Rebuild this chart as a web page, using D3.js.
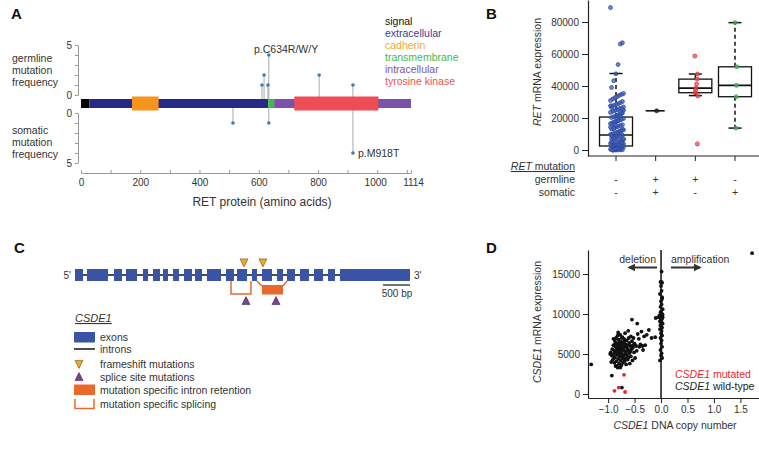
<!DOCTYPE html>
<html>
<head>
<meta charset="utf-8">
<script src="https://cdn.jsdelivr.net/npm/d3@7"></script>
<style>
  body { margin: 0; background: #fff; }
  svg { font-family: "Liberation Sans", Arial, Helvetica, sans-serif; }
</style>
</head>
<body>
<svg id="fig" width="759" height="450"></svg>
<script>
// ---------------- data ----------------
// A: RET protein domains (amino acids)
const retLength = 1114;
const retDomains = [
  ["signal", 0, 28],
  ["extracellular", 28, 632],
  ["transmembrane", 632, 652],
  ["intracellular", 652, 1114],
  ["cadherin", 172, 262],
  ["tyrosine kinase", 720, 1004]
];
const retLegend = ["signal", "extracellular", "cadherin", "transmembrane", "intracellular", "tyrosine kinase"];
const germlinePos = [611, 618, 631, 634, 804, 918];
const germlineFreq = [1, 2, 1, 4, 2, 1];
const somaticPos = [513, 634, 918];
const somaticFreq = [1, 1, 4];
const aTicks = [0, 100, 200, 300, 400, 500, 600, 700, 800, 900, 1000, 1100, 1114];
const aTickLabels = [0, 200, 400, 600, 800, 1000, 1114];

// B: RET mRNA expression by mutation status
const bGroups = ["none", "both", "germline", "somatic"];
const bGermline = ["-", "+", "+", "-"];
const bSomatic = ["-", "+", "-", "+"];
const bLow = [0, 24500, 34000, 13700];
const bQ1 = [2500, 24500, 35800, 33300];
const bMed = [9400, 24500, 38700, 40400];
const bQ3 = [20600, 24500, 44300, 52000];
const bHigh = [47800, 24500, 47500, 79600];
const bNone = [
  89000, 67000, 66200, 53400, 47600, 43300, 39100, 35300, 34700, 34100, 33300, 32600,
  31800, 30900, 30300, 29600, 28800, 28400, 27900, 27300, 26900, 26200, 25800, 25100,
  24600, 24200, 23500, 23100, 22400, 21900, 21300, 20800, 20300, 19700, 19100, 18600,
  18000, 17400, 17100, 16500, 15800, 15300, 14700, 14200, 13600, 13100, 12600, 12000,
  11500, 11100, 10600, 10100, 9700, 9300, 8800, 8400, 7900, 7400, 7100, 6600, 6200,
  5700, 5300, 4900, 4400, 4100, 3700, 3300, 2900, 2600, 2300, 2000, 1800, 1500, 1300,
  1000, 800, 600, 400, 200, 100, 0, 0, 0, 26500, 24900, 22800, 21100, 19400, 17700,
  16100, 14400, 12900, 11800, 10400, 8600, 7600, 5100, 3900, 2800, 1700, 700, 300, 0,
  27600, 25500, 23800, 18300, 15500, 13400, 9100, 6900, 4600, 3100, 1100, 500, 0
];
const bBoth = [24500];
const bGerm = [58700, 47500, 44300, 41200, 38700, 37500, 35800, 33800, 3800];
const bSom = [79600, 52000, 40400, 33300, 13700];
const bTicks = [0, 20000, 40000, 60000, 80000];

// C: CSDE1 gene model (bp)
const geneLength = 6204;
const exonStart = [0, 222, 722, 944, 1259, 1444, 1630, 1815, 2019, 2222, 2444, 2796, 3000, 3278, 3463, 3741, 3926, 4167, 4426, 4685, 4907];
const exonEnd = [148, 611, 870, 1148, 1352, 1574, 1722, 1926, 2167, 2352, 2704, 2944, 3185, 3370, 3648, 3852, 4074, 4333, 4593, 4815, 6204];
const frameshiftPos = [3130, 3481];
const spliceSitePos = [3167, 3722];
const splicing = [2889, 3259];
const retention = [3463, 3852];
const retentionFlank = [3370, 3926];
const scaleBarBp = 500;
const cLegend = ["exons", "introns", "frameshift mutations", "splice site mutations",
  "mutation specific intron retention", "mutation specific splicing"];

// D: CSDE1 copy number vs expression
const dWild = [
  [-1.32, 3700], [-0.95, 5200], [-0.93, 4800], [-0.92, 5600], [-0.91, 4300], [-0.90, 6100],
  [-0.89, 5000], [-0.88, 3900], [-0.88, 5400], [-0.87, 6600], [-0.87, 4600], [-0.86, 5900],
  [-0.86, 3500], [-0.85, 7000], [-0.85, 5200], [-0.84, 4100], [-0.84, 6300], [-0.83, 5700],
  [-0.83, 4900], [-0.82, 7300], [-0.82, 3300], [-0.81, 6000], [-0.81, 4400], [-0.80, 5500],
  [-0.80, 6800], [-0.79, 3800], [-0.79, 5100], [-0.78, 6200], [-0.78, 4700], [-0.77, 5800],
  [-0.77, 7400], [-0.76, 4200], [-0.76, 5300], [-0.75, 6500], [-0.75, 3600], [-0.74, 5000],
  [-0.74, 6000], [-0.73, 4500], [-0.73, 7100], [-0.72, 5600], [-0.72, 3900], [-0.71, 6300],
  [-0.71, 4800], [-0.70, 5400], [-0.70, 6900], [-0.69, 4100], [-0.69, 5900], [-0.68, 7600],
  [-0.68, 5000], [-0.67, 4400], [-0.67, 6200], [-0.66, 5300], [-0.66, 3700], [-0.65, 6700],
  [-0.65, 4900], [-0.64, 5700], [-0.63, 6100], [-0.63, 4300], [-0.62, 7900], [-0.62, 5500],
  [-0.61, 4600], [-0.60, 6400], [-0.60, 5100], [-0.59, 3800], [-0.58, 6000], [-0.57, 7200],
  [-0.57, 4700], [-0.56, 5600], [-0.55, 9300], [-0.55, 6600], [-0.54, 4200], [-0.53, 5800],
  [-0.52, 7000], [-0.51, 5200], [-0.50, 6300], [-0.49, 4500], [-0.45, 8800], [-0.47, 6000],
  [-0.46, 5400], [-0.44, 7500], [-0.42, 6900], [-0.41, 5900], [-0.39, 6200], [-0.37, 7800],
  [-0.35, 6000], [-0.34, 5500], [-0.32, 7200], [-0.30, 6100], [-0.23, 8000], [-0.27, 7400],
  [-0.11, 7100], [-0.18, 7000], [-0.10, 9500], [-0.93, 2300], [-0.74, 800], [-0.96, 5000],
  [-0.94, 4000], [-0.90, 6900], [-0.89, 4500], [-0.86, 6300], [-0.84, 5400], [-0.83, 3500],
  [-0.81, 7700], [-0.79, 6500], [-0.77, 3300], [-0.76, 5700], [-0.74, 7000], [-0.72, 4500],
  [-0.69, 6600], [-0.66, 5900], [-0.64, 4600], [-0.61, 7000], [-0.58, 5300], [-0.53, 6100],
  [0.01, 15300], [-0.01, 14000], [0.02, 13900], [0.00, 13500], [0.01, 12900], [-0.02, 12500],
  [0.02, 12100], [0.00, 11600], [0.01, 11200], [-0.01, 10900], [0.03, 10600], [0.00, 10300],
  [0.02, 10000], [-0.03, 9800], [0.01, 9700], [0.03, 9600], [-0.01, 9500], [0.02, 9400],
  [0.00, 9300], [-0.02, 9100], [0.01, 9000], [0.03, 8800], [-0.01, 8600], [0.00, 8500],
  [0.02, 8300], [-0.02, 8100], [0.01, 7900], [0.00, 7600], [0.02, 7300], [-0.01, 7000],
  [0.01, 6700], [0.00, 6300], [0.02, 5900], [-0.01, 5500], [0.01, 5100], [0.00, 4800],
  [-0.02, 4200], [0.02, 4500], [-0.05, 9600], [0.01, 14000], [0.02, 11900], [-0.01, 10200],
  [0.03, 9900], [0.00, 8900], [1.72, 17600]
];
const dMut = [[-0.70, 2400], [-0.88, 400], [-0.80, 800], [-0.68, 250]];
const dXTicks = [-1, -0.5, 0, 0.5, 1, 1.5];
const dYTicks = [0, 5000, 10000, 15000];

// ---------------- drawing ----------------
const svg = d3.select("#fig");
const ink = "#333";

function panelLabel(t, x, y) {
  svg.append("text").attr("x", x).attr("y", y).text(t)
    .attr("font-size", 15).attr("font-weight", "bold").attr("fill", "#111");
}
function styleAxis(g, col, size) {
  g.selectAll("path,line").attr("stroke", col);
  g.selectAll("text").attr("fill", ink).attr("font-size", size)
    .attr("font-family", "Liberation Sans, Arial, sans-serif");
}

// ===== Panel A =====
panelLabel("A", 11, 19);
const domainColor = {
  "signal": "#000000", "extracellular": "#262a87", "cadherin": "#f7941e",
  "transmembrane": "#3dba4b", "intracellular": "#7b52a9", "tyrosine kinase": "#ef4d55"
};
const legendColor = {
  "signal": "#111111", "extracellular": "#3a3d9c", "cadherin": "#f7a43b",
  "transmembrane": "#3dba4b", "intracellular": "#7b55a9", "tyrosine kinase": "#ef4f58"
};
const xA = d3.scaleLinear().domain([0, retLength]).range([81, 411]);
const yGerm = d3.scaleLinear().domain([0, 5]).range([95, 45]);
const ySom = d3.scaleLinear().domain([0, 5]).range([113, 163]);
const barTop = 99, barBot = 108;
const A = svg.append("g");

const axG = A.append("g").attr("transform", "translate(78,0)")
  .call(d3.axisLeft(yGerm).tickValues([0, 1, 2, 3, 4, 5]).tickSize(3).tickSizeOuter(0)
    .tickFormat(d => d % 5 === 0 ? d : ""));
styleAxis(axG, "#999", 10);
const axS = A.append("g").attr("transform", "translate(78,0)")
  .call(d3.axisLeft(ySom).tickValues([0, 1, 2, 3, 4, 5]).tickSize(3).tickSizeOuter(0)
    .tickFormat(d => d % 5 === 0 ? d : ""));
styleAxis(axS, "#999", 10);

const axX = A.append("g").attr("transform", "translate(0,173)")
  .call(d3.axisBottom(xA).tickValues(aTicks).tickSizeInner(-3).tickSizeOuter(0).tickPadding(6)
    .tickFormat(d => aTickLabels.includes(d) ? d : ""));
styleAxis(axX, "#999", 10);
// the two right-most labels sit a little apart in the original
axX.selectAll(".tick text").attr("dx", d => d === 1000 ? -2 : d === 1114 ? 2 : 0);
A.append("text").attr("x", 262).attr("y", 206).attr("text-anchor", "middle")
  .attr("font-size", 12).attr("fill", ink).text("RET protein (amino acids)");

[["germline", "mutation", "frequency"], ["somatic", "mutation", "frequency"]].forEach((lines, k) => {
  lines.forEach((s, i) => {
    A.append("text").attr("x", 12).attr("y", (k ? 134 : 62) + i * 12)
      .attr("font-size", 10.5).attr("fill", ink).text(s);
  });
});

// stems and heads
const stemCol = "#aaa", headCol = "#3b7fb6";
germlinePos.forEach((p, i) => {
  A.append("line").attr("x1", xA(p)).attr("x2", xA(p)).attr("y1", barTop).attr("y2", yGerm(germlineFreq[i]))
    .attr("stroke", stemCol).attr("stroke-width", 1);
});
somaticPos.forEach((p, i) => {
  A.append("line").attr("x1", xA(p)).attr("x2", xA(p)).attr("y1", barBot).attr("y2", ySom(somaticFreq[i]))
    .attr("stroke", stemCol).attr("stroke-width", 1);
});

retDomains.forEach(([name, s, e]) => {
  const tall = name === "cadherin" || name === "tyrosine kinase";
  A.append("rect").attr("x", xA(s)).attr("width", xA(e) - xA(s))
    .attr("y", tall ? barTop - 2.5 : barTop).attr("height", tall ? barBot - barTop + 5 : barBot - barTop)
    .attr("fill", domainColor[name]);
});
germlinePos.forEach((p, i) => {
  A.append("circle").attr("cx", xA(p)).attr("cy", yGerm(germlineFreq[i])).attr("r", 1.8).attr("fill", headCol);
});
somaticPos.forEach((p, i) => {
  A.append("circle").attr("cx", xA(p)).attr("cy", ySom(somaticFreq[i])).attr("r", 1.8).attr("fill", headCol);
});
A.append("text").attr("x", 254).attr("y", 53).attr("font-size", 10.5).attr("fill", ink).text("p.C634R/W/Y");
A.append("text").attr("x", xA(918) + 5).attr("y", ySom(4) + 4).attr("font-size", 10.5).attr("fill", ink).text("p.M918T");

retLegend.forEach((name, i) => {
  A.append("text").attr("x", 385).attr("y", 25 + i * 12).attr("font-size", 10.5)
    .attr("fill", legendColor[name]).text(name);
});

// ===== Panel B =====
panelLabel("B", 486, 19);
const B = svg.append("g");
const yB = d3.scaleLinear().domain([-3750, 93750]).range([156, 0]);
const xB = d3.scalePoint().domain(bGroups).range([616, 735]);
const byAx = B.append("g").attr("transform", "translate(588,0)")
  .call(d3.axisLeft(yB).tickValues(bTicks).tickSize(6).tickSizeOuter(0).tickPadding(3).tickFormat(d3.format("d")));
styleAxis(byAx, "#222", 10);
byAx.select(".domain").attr("stroke-width", 1.2);
B.append("line").attr("x1", 588).attr("x2", 760).attr("y1", 156).attr("y2", 156)
  .attr("stroke", "#222").attr("stroke-width", 1.2);
bGroups.forEach(g => {
  B.append("line").attr("x1", xB(g)).attr("x2", xB(g)).attr("y1", 156).attr("y2", 161).attr("stroke", "#222");
});
const yTitleB = B.append("text").attr("transform", "translate(541,72) rotate(-90)")
  .attr("text-anchor", "middle").attr("font-size", 10.5).attr("fill", ink);
yTitleB.append("tspan").attr("font-style", "italic").text("RET");
yTitleB.append("tspan").text(" mRNA expression");

// boxes
const boxW = 33, capW = 13;
bGroups.forEach((g, i) => {
  const cx = xB(g);
  if (bQ1[i] === bQ3[i]) {
    B.append("line").attr("x1", cx - 10).attr("x2", cx + 9).attr("y1", yB(bMed[i])).attr("y2", yB(bMed[i]))
      .attr("stroke", "#111").attr("stroke-width", 1.6);
    return;
  }
  B.append("line").attr("x1", cx).attr("x2", cx).attr("y1", yB(bQ3[i])).attr("y2", yB(bHigh[i]))
    .attr("stroke", "#111").attr("stroke-width", 1.5).attr("stroke-dasharray", "4,3");
  B.append("line").attr("x1", cx).attr("x2", cx).attr("y1", yB(bQ1[i])).attr("y2", yB(bLow[i]))
    .attr("stroke", "#111").attr("stroke-width", 1.5).attr("stroke-dasharray", "4,3");
  [bHigh[i], bLow[i]].forEach(v => {
    B.append("line").attr("x1", cx - capW / 2).attr("x2", cx + capW / 2).attr("y1", yB(v)).attr("y2", yB(v))
      .attr("stroke", "#111").attr("stroke-width", 1.5);
  });
  B.append("rect").attr("x", cx - boxW / 2).attr("width", boxW)
    .attr("y", yB(bQ3[i])).attr("height", yB(bQ1[i]) - yB(bQ3[i]))
    .attr("fill", "none").attr("stroke", "#111").attr("stroke-width", 1.3);
  B.append("line").attr("x1", cx - boxW / 2).attr("x2", cx + boxW / 2).attr("y1", yB(bMed[i])).attr("y2", yB(bMed[i]))
    .attr("stroke", "#111").attr("stroke-width", 1.6);
});

// points (small deterministic jitter around the group centre)
const jitter = (i, w) => (((i * 37) % 13) / 12 - 0.5) * w;
const pointSets = [[bNone, "#3f5fb8", "#2b469c", 13], [bBoth, "#222", "#111", 0],
  [bGerm, "#ef4f55", "#d8262c", 3], [bSom, "#4dbb55", "#2e9a3a", 2]];
pointSets.forEach(([vals, fill, stroke, w], gi) => {
  B.append("g").selectAll("circle").data(vals).join("circle")
    .attr("cx", (d, i) => xB(bGroups[gi]) + 1 + jitter(i, w))
    .attr("cy", d => yB(d)).attr("r", 2)
    .attr("fill", fill).attr("fill-opacity", 0.75).attr("stroke", stroke).attr("stroke-width", 0.7);
});

// mutation table
const rowY = [170, 183, 196];
const head = B.append("text").attr("x", 575).attr("y", rowY[0]).attr("text-anchor", "end")
  .attr("font-size", 10.5).attr("fill", ink);
head.append("tspan").attr("font-style", "italic").attr("text-decoration", "underline").text("RET");
head.append("tspan").attr("text-decoration", "underline").text(" mutation");
B.append("text").attr("x", 575).attr("y", rowY[1]).attr("text-anchor", "end").attr("font-size", 10.5).attr("fill", ink).text("germline");
B.append("text").attr("x", 575).attr("y", rowY[2]).attr("text-anchor", "end").attr("font-size", 10.5).attr("fill", ink).text("somatic");
bGroups.forEach((g, i) => {
  B.append("text").attr("x", xB(g)).attr("y", rowY[1]).attr("text-anchor", "middle").attr("font-size", 10.5).attr("fill", ink).text(bGermline[i]);
  B.append("text").attr("x", xB(g)).attr("y", rowY[2]).attr("text-anchor", "middle").attr("font-size", 10.5).attr("fill", ink).text(bSomatic[i]);
});

// ===== Panel C =====
panelLabel("C", 14, 253);
const C = svg.append("g");
const xC = d3.scaleLinear().domain([0, geneLength]).range([75, 410]);
const exonCol = "#3953a6", orange = "#e8692b", fsCol = "#f5a623", ssCol = "#7d3f98";
const geneY = 275, exH = 12;
C.append("line").attr("x1", xC(0)).attr("x2", xC(geneLength)).attr("y1", geneY).attr("y2", geneY)
  .attr("stroke", "#111").attr("stroke-width", 1.5);
exonStart.forEach((s, i) => {
  C.append("rect").attr("x", xC(s)).attr("width", xC(exonEnd[i]) - xC(s))
    .attr("y", geneY - exH / 2).attr("height", exH).attr("fill", exonCol);
});
C.append("text").attr("x", 71).attr("y", 279).attr("text-anchor", "end").attr("font-size", 10).attr("fill", ink).text("5'");
C.append("text").attr("x", 414).attr("y", 279).attr("font-size", 10).attr("fill", ink).text("3'");
// scale bar
C.append("line").attr("x1", xC(geneLength - scaleBarBp)).attr("x2", xC(geneLength)).attr("y1", 285).attr("y2", 285)
  .attr("stroke", "#444").attr("stroke-width", 1.5);
C.append("text").attr("x", 397).attr("y", 297).attr("text-anchor", "middle").attr("font-size", 10).attr("fill", ink).text("500 bp");

const exBot = geneY + exH / 2;
// splicing bracket
C.append("path").attr("d", `M${xC(splicing[0])},${exBot}V294H${xC(splicing[1])}V${exBot}`)
  .attr("fill", "none").attr("stroke", orange).attr("stroke-width", 1.5);
// intron retention
C.append("path").attr("d", `M${xC(retentionFlank[0])},${exBot}L${xC(retention[0])},286`)
  .attr("stroke", orange).attr("stroke-width", 1.5);
C.append("path").attr("d", `M${xC(retentionFlank[1])},${exBot}L${xC(retention[1])},286`)
  .attr("stroke", orange).attr("stroke-width", 1.5);
C.append("rect").attr("x", xC(retention[0])).attr("width", xC(retention[1]) - xC(retention[0]))
  .attr("y", 285).attr("height", 9.5).attr("fill", orange);

const tri = (cx, cy, up, s) => up
  ? `M${cx},${cy - s * 0.55}L${cx + s / 2},${cy + s * 0.45}L${cx - s / 2},${cy + s * 0.45}Z`
  : `M${cx},${cy + s * 0.55}L${cx + s / 2},${cy - s * 0.45}L${cx - s / 2},${cy - s * 0.45}Z`;
frameshiftPos.forEach(p => {
  C.append("path").attr("d", tri(xC(p), 262.5, false, 8)).attr("fill", fsCol).attr("stroke", "#6b4a10").attr("stroke-width", 0.6);
});
spliceSitePos.forEach(p => {
  C.append("path").attr("d", tri(xC(p), 301, true, 8)).attr("fill", ssCol).attr("stroke", "#3a1f4a").attr("stroke-width", 0.6);
});

// legend
C.append("text").attr("x", 75).attr("y", 322).attr("font-size", 11).attr("font-style", "italic")
  .attr("text-decoration", "underline").attr("fill", ink).text("CSDE1");
const lgY = [337, 349, 364, 377, 390, 404];
C.append("rect").attr("x", 74).attr("y", 332).attr("width", 21).attr("height", 10.5).attr("fill", exonCol);
C.append("line").attr("x1", 74).attr("x2", 95).attr("y1", 349).attr("y2", 349).attr("stroke", "#111").attr("stroke-width", 1.5);
C.append("path").attr("d", tri(79, 364, false, 8)).attr("fill", fsCol).attr("stroke", "#6b4a10").attr("stroke-width", 0.6);
C.append("path").attr("d", tri(79, 377, true, 8)).attr("fill", ssCol).attr("stroke", "#3a1f4a").attr("stroke-width", 0.6);
C.append("rect").attr("x", 74).attr("y", 384.5).attr("width", 21).attr("height", 10.5).attr("fill", orange);
C.append("path").attr("d", "M75,399V408.5H94V399").attr("fill", "none").attr("stroke", orange).attr("stroke-width", 1.5);
cLegend.forEach((s, i) => {
  C.append("text").attr("x", 100).attr("y", lgY[i] + 4).attr("font-size", 10.5).attr("fill", ink).text(s);
});

// ===== Panel D =====
panelLabel("D", 486, 253);
const D = svg.append("g");
const xD = d3.scaleLinear().domain([-1.38, 1.87]).range([588, 760]);
const yD = d3.scaleLinear().domain([-500, 18000]).range([398, 250]);
const dyAx = D.append("g").attr("transform", "translate(588,0)")
  .call(d3.axisLeft(yD).tickValues(dYTicks).tickSize(5).tickSizeOuter(0).tickPadding(3).tickFormat(d3.format("d")));
styleAxis(dyAx, "#222", 10);
dyAx.select(".domain").attr("stroke-width", 1.2);
const dxAx = D.append("g").attr("transform", "translate(0,398)")
  .call(d3.axisBottom(xD).tickValues(dXTicks).tickSize(5).tickSizeOuter(0).tickPadding(3).tickFormat(d3.format(".1f")));
styleAxis(dxAx, "#222", 10);
dxAx.select(".domain").attr("stroke-width", 1.2);

D.append("line").attr("x1", xD(0)).attr("x2", xD(0)).attr("y1", 250).attr("y2", 398)
  .attr("stroke", "#111").attr("stroke-width", 1.5);

const yTitleD = D.append("text").attr("transform", "translate(541,322) rotate(-90)")
  .attr("text-anchor", "middle").attr("font-size", 10.5).attr("fill", ink);
yTitleD.append("tspan").attr("font-style", "italic").text("CSDE1");
yTitleD.append("tspan").text(" mRNA expression");
const xTitleD = D.append("text").attr("x", 675).attr("y", 429).attr("text-anchor", "middle")
  .attr("font-size", 10.5).attr("fill", ink);
xTitleD.append("tspan").attr("font-style", "italic").text("CSDE1");
xTitleD.append("tspan").text(" DNA copy number");

// arrows
const defs = svg.append("defs");
defs.append("marker").attr("id", "ah").attr("viewBox", "0 0 10 10").attr("refX", 8).attr("refY", 5)
  .attr("markerWidth", 4).attr("markerHeight", 4).attr("orient", "auto-start-reverse")
  .append("path").attr("d", "M0,0L10,5L0,10Z").attr("fill", "#333");
D.append("text").attr("x", 656).attr("y", 263).attr("text-anchor", "end").attr("font-size", 10.5).attr("fill", ink).text("deletion");
D.append("text").attr("x", 671).attr("y", 263).attr("font-size", 10.5).attr("fill", ink).text("amplification");
D.append("line").attr("x1", 657).attr("x2", 629).attr("y1", 267.5).attr("y2", 267.5)
  .attr("stroke", "#333").attr("stroke-width", 2).attr("marker-end", "url(#ah)");
D.append("line").attr("x1", 671).attr("x2", 700).attr("y1", 267.5).attr("y2", 267.5)
  .attr("stroke", "#333").attr("stroke-width", 2).attr("marker-end", "url(#ah)");

D.append("g").selectAll("circle").data(dWild).join("circle")
  .attr("cx", d => xD(d[0])).attr("cy", d => yD(d[1])).attr("r", 1.9).attr("fill", "#111");
D.append("g").selectAll("circle").data(dMut).join("circle")
  .attr("cx", d => xD(d[0])).attr("cy", d => yD(d[1])).attr("r", 1.9).attr("fill", "#e8262c");

const l1 = D.append("text").attr("x", 675).attr("y", 378).attr("font-size", 10.5).attr("fill", "#e8262c");
l1.append("tspan").attr("font-style", "italic").text("CSDE1");
l1.append("tspan").text(" mutated");
const l2 = D.append("text").attr("x", 675).attr("y", 390).attr("font-size", 10.5).attr("fill", "#222");
l2.append("tspan").attr("font-style", "italic").text("CSDE1");
l2.append("tspan").text(" wild-type");
</script>
</body>
</html>
